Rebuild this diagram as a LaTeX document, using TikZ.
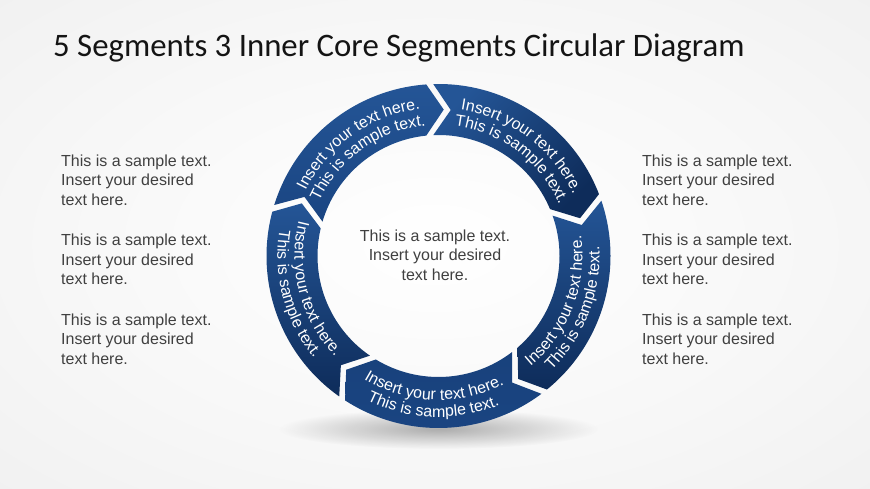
\documentclass[tikz,border=0pt]{standalone}
\usepackage{fontspec}
\setmainfont{Liberation Sans}
\newfontfamily\titlefont{Carlito}
\newfontfamily\segfont{Liberation Sans}
\usetikzlibrary{decorations.text,fadings}
\definecolor{bgA}{HTML}{FFFFFF}
\definecolor{bgB}{HTML}{F7F7F7}
\definecolor{bgC}{HTML}{EBEBEB}
\definecolor{bgD}{HTML}{DCDCDC}
\definecolor{segLight}{HTML}{245596}
\definecolor{segMid}{HTML}{1A4582}
\definecolor{segDark}{HTML}{0E2C5A}
\definecolor{bodytext}{HTML}{404040}
\pgfdeclareradialshading{bgshade}{\pgfpointorigin}{color(0bp)=(bgA); color(22bp)=(bgB); color(50bp)=(bgC); color(71bp)=(bgD)}
\tikzfading[name=softshadow, inner color=transparent!0, outer color=transparent!100]
\newcommand{\segtext}{\segfont\fontsize{16}{18}\selectfont\color{white}}
\newcommand{\ringseg}[3]{%
  \pgfmathsetmacro\ao{#1+5.25/172*57.2958}%
  \pgfmathsetmacro\ai{#1+5.25/121*57.2958}%
  \pgfmathsetmacro\an{#1-12.25/146.5*57.2958}%
  \pgfmathsetmacro\bo{#2+12.25/172*57.2958}%
  \pgfmathsetmacro\bi{#2+12.25/121*57.2958}%
  \pgfmathsetmacro\bt{#2-5.25/146.5*57.2958}%
  \shade[#3] (\ao:172) arc[start angle=\ao, end angle=\bo, radius=172] -- (\bt:146.5) -- (\bi:121) arc[start angle=\bi, end angle=\ai, radius=121] -- (\an:146.5) -- cycle;
}
\newcommand{\arctext}[4]{%
  \path[decorate, decoration={text along path, text align=center, text={|\segtext|#4}}] (#2:#1) arc[start angle=#2, end angle=#3, radius=#1];
}
\tikzset{
  sidetext/.style={anchor=west, align=left, inner sep=0pt, text=bodytext, font=\fontsize{16}{19.7}\selectfont},
  centertext/.style={anchor=center, align=center, inner sep=0pt, text=bodytext, font=\fontsize{16}{19.7}\selectfont},
}
\begin{document}
\begin{tikzpicture}[x=1pt, y=1pt]
\useasboundingbox (0,0) rectangle (870,489);
\shade[shading=bgshade] (0,0) rectangle (870,489);
% title
\node[anchor=base west, inner sep=0pt, font=\titlefont\fontsize{32.8}{38}\selectfont, text=black!92] (title) at (53,432) {5 Segments 3 Inner Core Segments Circular Diagram};
% shadow
\fill[black, opacity=0.3, path fading=softshadow, fit fading=true] (438.5,60) ellipse[x radius=160, y radius=20];
% ring
\begin{scope}[shift={(438.5,233)}]
  \ringseg{161}{90}{top color=segLight, bottom color=segMid}
  \ringseg{90}{17}{top color=segLight, bottom color=segDark, shading angle=45}
  \ringseg{17}{-55}{top color=segLight, bottom color=segDark}
  \ringseg{-55}{-127}{top color=segMid!85!segDark, bottom color=segMid}
  \ringseg{233}{161}{top color=segLight, bottom color=segDark}
  % texts
  \arctext{148}{170.5}{80.5}{Insert your text here.}
  \arctext{131}{170.5}{80.5}{This is sample text.}
  \arctext{148}{98}{8}{Insert your text here.}
  \arctext{131}{98}{8}{This is sample text.}
  \arctext{144}{-66}{24}{Insert your text here.}
  \arctext{161}{-66}{24}{This is sample text.}
  \arctext{144}{-137}{-47}{Insert your text here.}
  \arctext{161}{-137}{-47}{This is sample text.}
  \arctext{144}{150}{240}{Insert your text here.}
  \arctext{161}{150}{240}{This is sample text.}
\end{scope}
% center text
\node[centertext] (ctext) at (435,234) {This is a sample text.\\Insert your desired\\text here.};
% left texts
\node[sidetext] (l1) at (61,309) {This is a sample text.\\Insert your desired\\text here.};
\node[sidetext] (l2) at (61,229.5) {This is a sample text.\\Insert your desired\\text here.};
\node[sidetext] (l3) at (61,150) {This is a sample text.\\Insert your desired\\text here.};
% right texts
\node[sidetext] (r1) at (642,309) {This is a sample text.\\Insert your desired\\text here.};
\node[sidetext] (r2) at (642,229.5) {This is a sample text.\\Insert your desired\\text here.};
\node[sidetext] (r3) at (642,150) {This is a sample text.\\Insert your desired\\text here.};
\end{tikzpicture}
\end{document}
